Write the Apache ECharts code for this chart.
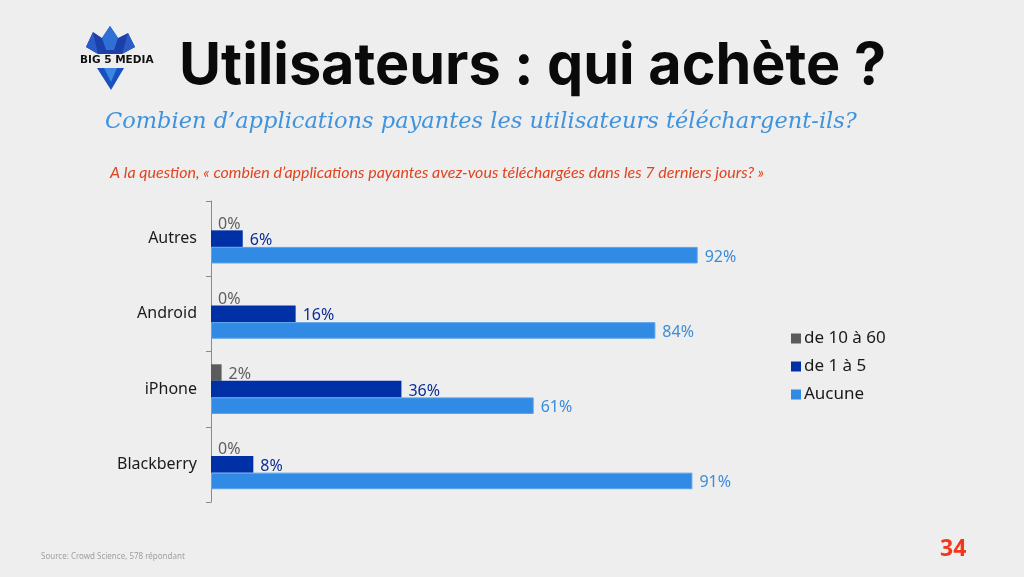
<!DOCTYPE html>
<html><head><meta charset="utf-8">
<script src="https://cdn.jsdelivr.net/npm/echarts@6/dist/echarts.min.js"></script>
<style>html,body{margin:0;padding:0;background:#eeeeee;}#c{width:1024px;height:577px;}</style>
</head><body><div id="c"></div>
<script>
const categories = ['Autres', 'Android', 'iPhone', 'Blackberry'];
const seriesNames = ['de 10 à 60', 'de 1 à 5', 'Aucune'];
const valsDe10a60 = [0, 0, 2, 0];
const valsDe1a5 = [6, 16, 36, 8];
const valsAucune = [92, 84, 61, 91];

const barColors = ['#5b5b5b', '#0030a6', '#318ae4'];
const labelColors = ['#5e5e5e', '#0a2f96', '#3b8bd8'];
const allVals = [valsDe10a60, valsDe1a5, valsAucune];

const chart = echarts.init(document.getElementById('c'), null, {renderer: 'canvas'});
const font = '"Noto Sans", "DejaVu Sans", sans-serif';

chart.setOption({
  backgroundColor: '#eeeeee',
  animation: false,
  title: [
    {text: 'Utilisateurs : qui achète ?', left: 174, top: 33,
     textStyle: {fontFamily: 'Inter, "Open Sans", sans-serif', fontWeight: 'bold', fontSize: 57.5, color: '#0a0a0a'}},
    {text: 'Combien d’applications payantes les utilisateurs téléchargent-ils?', left: 100, top: 106,
     textStyle: {fontFamily: '"DejaVu Serif", serif', fontStyle: 'italic', fontWeight: 'normal', fontSize: 22.5, color: '#3f93dd'}},
    {text: 'A la question, « combien d’applications payantes avez-vous téléchargées dans les 7 derniers jours? »', left: 105, top: 160,
     textStyle: {fontFamily: 'Lato, "Open Sans", sans-serif', fontStyle: 'italic', fontWeight: 'normal', fontSize: 16, color: '#e2431f'}},
    {text: 'Source: Crowd Science, 578 répondant', left: 36, top: 548,
     textStyle: {fontFamily: font, fontWeight: 'normal', fontSize: 8, color: '#a0a0a0'}},
    {text: '34', left: 935, top: 533,
     textStyle: {fontFamily: font, fontWeight: 'bold', fontSize: 23, color: '#f0391a'}}
  ],
  legend: {
    orient: 'vertical', left: 786, top: 325, itemWidth: 10, itemHeight: 10, itemGap: 11,
    icon: 'rect',
    itemStyle: {borderWidth: 0},
    textStyle: {fontFamily: font, fontSize: 17, color: '#1a1a1a', padding: [0, 0, 0, -2]},
    data: seriesNames
  },
  grid: {left: 211, top: 201, width: 529, height: 301, containLabel: false},
  xAxis: {type: 'value', min: 0, max: 100, show: false},
  yAxis: {
    type: 'category', data: categories, inverse: true,
    axisLine: {lineStyle: {color: '#8a8a8a', width: 1}},
    axisTick: {show: true, length: 5, lineStyle: {color: '#8a8a8a'}},
    axisLabel: {fontFamily: font, fontSize: 16, color: '#1a1a1a', margin: 14}
  },
  series: seriesNames.map((name, i) => ({
    name: name, type: 'bar', data: allVals[i],
    barGap: '0%', barCategoryGap: '34%',
    itemStyle: {color: barColors[i], borderColor: i === 2 ? '#5aa2ea' : barColors[i], borderWidth: i === 2 ? 1 : 0},
    label: {show: true, position: 'right', distance: 7, formatter: '{c}%',
            fontFamily: font, fontSize: 16, color: labelColors[i], offset: [0, 2]}
  })),
  graphic: [
    // crown
    {type: 'polygon', shape: {points: [[86,47],[93,32],[102,38],[110,26],[118,38],[128,33],[135,47],[122,54],[98,54]]},
     style: {fill: '#1d3fa8'}},
    {type: 'polygon', shape: {points: [[102,38],[110,26],[118,38],[114,50],[106,50]]}, style: {fill: '#2f6fd6'}},
    {type: 'polygon', shape: {points: [[86,47],[93,32],[98,54]]}, style: {fill: '#2a5cc8'}},
    {type: 'polygon', shape: {points: [[135,47],[128,33],[122,54]]}, style: {fill: '#2a5cc8'}},
    // diamond
    {type: 'polygon', shape: {points: [[97,68],[124,68],[111,90]]}, style: {fill: '#1a4fc0'}},
    {type: 'polygon', shape: {points: [[104,68],[117,68],[111,82]]}, style: {fill: '#3a86e0'}},
    {type: 'text', left: 80, top: 55, style: {text: 'BIG 5 MEDIA', fontFamily: '"DejaVu Sans", sans-serif', fontWeight: 'bold', fontSize: 10.5, fill: '#111'}}
  ]
});
</script></body></html>
